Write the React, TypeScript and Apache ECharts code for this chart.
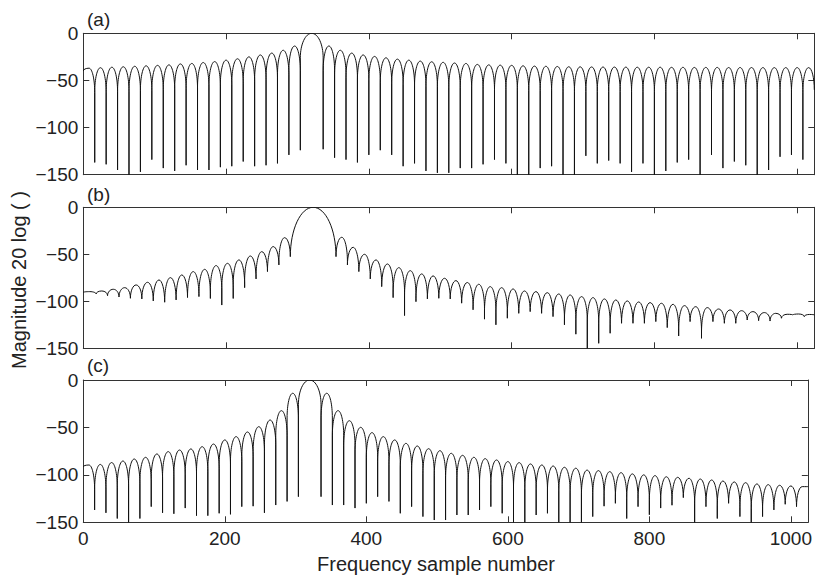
import React, { useEffect, useRef } from "react";
import * as echarts from "echarts";

// ---- tick labels / texts ----
const xTickValues = [0, 200, 400, 600, 800, 1000];
const yTickValues = [0, -50, -100, -150];
const panelLabels = ["(a)", "(b)", "(c)"];
const yTitle = "Magnitude 20 log ( )";
const xTitle = "Frequency sample number";

// ---- null (lobe boundary) positions ----
const nullPosAC = [
  0, 16, 32, 48, 64, 80, 96, 112, 128, 144, 160, 176, 192, 208, 224, 240, 256, 272, 288, 304,
  336, 352, 368, 384, 400, 416, 432, 448, 464, 480, 496, 512, 528, 544, 560, 576, 592, 608, 624,
  640, 656, 672, 688, 704, 720, 736, 752, 768, 784, 800, 816, 832, 848, 864, 880, 896, 912, 928,
  944, 960, 976, 992, 1008, 1024,
];
const nullPosB = [
  0, 18, 34, 50, 66, 82, 98, 114, 130, 146, 162, 178, 194, 210, 226, 242, 258, 274, 290,
  354, 370, 386, 402, 418, 434, 450, 466, 482, 498, 514, 530, 546, 562, 578, 594, 610, 626, 642,
  658, 674, 690, 706, 722, 738, 754, 770, 786, 802, 818, 834, 850, 866, 882, 898, 914, 930, 946,
  962, 978, 994, 1010, 1024,
];

// ---- panel (a): values at the nulls (dB) and lobe peak levels (dB) ----
const nullDepthA = [
  -40, -137, -139, -145, -155, -147, -134, -143, -146, -140, -145, -145, -142, -141, -136, -141,
  -140, -138, -129, -124,
  -123, -132, -134, -137, -129, -124, -129, -141, -138, -146, -148, -148, -143, -143, -139, -134,
  -138, -155, -155, -143, -141, -155,
  -155, -130, -138, -135, -138, -147, -138, -155, -146, -137, -134, -155, -129, -143, -136, -140,
  -155, -145, -131, -129, -134, -60,
];
const peakA = [
  -37, -36.5, -36, -35.5, -35, -34.5, -34, -33.5, -32.5, -32, -31, -30, -28.5, -27, -25, -23, -21,
  -18, -13.5,
  0,
  -13.5, -18, -21, -23, -24.5, -26, -27.4, -28.5, -29.5, -30.2, -30.8, -31.5, -32, -33, -33.5,
  -33.8, -34, -34.5, -34.8, -35, -35.2, -35.5,
  -35.6, -35.7, -35.8, -35.8, -35.9, -36, -36, -36, -36.1, -36.1, -36.2, -36.2, -36.2, -36.3,
  -36.3, -36.3, -36.4, -36.4, -36.4, -36.4, -36.4,
];

// ---- panel (b) ----
const nullDepthB = [
  -90.5, -92.2, -94, -95.4, -96.8, -97.5, -99.6, -101, -98.6, -96, -95, -97, -104, -97, -85.5,
  -76.2, -68.4, -61.3, -52.5,
  -52.5, -61.3, -68.4, -76.2, -84.4, -96.1, -115.2, -100.4, -97.5, -96.8, -97.5, -102, -109, -119,
  -125, -118, -112.8, -111, -112.8, -116.3, -125,
  -135, -152, -144.7, -134, -123.4, -123.4, -123.4, -121.6, -128, -136.9, -121.6, -139.4, -121.6,
  -123.4, -123.4, -119.9, -120.6, -121, -118, -114.5, -116.3,
  -114.5,
];
const peakB = [
  -89.7, -89, -87.2, -85.5, -82.6, -79.8, -77.3, -74.8, -72, -68.4, -66, -62, -59.6, -56, -51.8,
  -47.2, -41.8, -32.3,
  0,
  -31.9, -42.6, -50, -56, -60.3, -64.2, -67.4, -70.9, -73, -75.5, -78, -80, -81.9, -84.4, -85.5,
  -86.9, -89, -89.7, -90.8, -92.2, -93.3,
  -95, -96.1, -97.5, -98.6, -99.6, -100.7, -101.4, -102.1, -103.2, -104.6, -105.7, -106.7, -108.2,
  -109.2, -110, -111, -112, -112.8, -113.8, -113.5, -114,
];

// ---- panel (c) ----
const nullDepthC = [
  -91.4, -137, -140, -146, -152, -146, -133.5, -140, -141, -135, -143, -143, -140.5, -141.6,
  -133.5, -133, -140, -131.8, -128, -123,
  -123, -131.8, -131.8, -135, -130, -123, -128, -140.5, -133.5, -144, -147.6, -147.6, -142.3,
  -142.3, -137, -133.5, -140.5, -152, -152, -142.3, -140.5, -152,
  -152, -152, -144, -133, -130, -146, -133.5, -142, -135, -132, -124, -152, -133.5, -146, -130,
  -144, -152, -144, -137, -131, -133.5, -112,
];
const peakC = [
  -89.6, -89, -87, -85.4, -83.3, -81.5, -78, -75.5, -73.8, -72.7, -70.3, -67.5, -63.2, -59.7,
  -54.8, -49.2, -42.2, -32.3, -14,
  0,
  -14, -32.3, -42.9, -49.9, -55.5, -59.7, -63.2, -66.8, -69.6, -72.4, -74.5, -77.3, -79.4, -81.5,
  -82.9, -84.3, -86, -87.1, -88.5, -89.6, -90.7, -92,
  -93, -95, -95.5, -96.6, -97.7, -99, -100, -100.8, -102, -102.6, -103.6, -104.4, -105.4, -106.5,
  -107.5, -108.2, -109.6, -110.3, -111, -111.7, -112.4,
];

const panels = [
  { pos: nullPosAC, depth: nullDepthA, peak: peakA },
  { pos: nullPosB, depth: nullDepthB, peak: peakB },
  { pos: nullPosAC, depth: nullDepthC, peak: peakC },
];

const FONT = "'Liberation Sans', Arial, Helvetica, sans-serif";
const FRAME = "#333";
const TEXT = "#222";
const KAPPA = 0.5523;

function buildLobes(pos: number[], depth: number[], peak: number[]) {
  const out: number[][] = [];
  for (let i = 0; i < peak.length; i++) {
    out.push([pos[i], depth[i], pos[i + 1], depth[i + 1], peak[i]]);
  }
  return out;
}

const gridBoxes = [
  { top: 33.3, height: 141.4 },
  { top: 207.3, height: 141 },
  { top: 380, height: 142.3 },
];

function minus(v: number) {
  return v < 0 ? "\u2212" + Math.abs(v) : String(v);
}

// draws one spectral lobe: rounded cap (quarter ellipses) + straight drop to each null
function renderLobe(_params: any, api: any) {
  const xL = api.value(0);
  const yL = api.value(1);
  const xR = api.value(2);
  const yR = api.value(3);
  const yP = api.value(4);
  const pL = api.coord([xL, yL]);
  const pR = api.coord([xR, yR]);
  const pM = api.coord([(xL + xR) / 2, yP]);
  const capDb = xR - xL > 40 ? 60 : 26;
  const capPx = api.size([0, capDb])[1];
  const hL = Math.max(0, Math.min(capPx, pL[1] - pM[1]));
  const hR = Math.max(0, Math.min(capPx, pR[1] - pM[1]));
  const wl = pM[0] - pL[0];
  const wr = pR[0] - pM[0];
  const yp = pM[1];
  const d =
    `M${pL[0]} ${pL[1]} L${pL[0]} ${yp + hL} ` +
    `C${pL[0]} ${yp + hL * (1 - KAPPA)} ${pM[0] - KAPPA * wl} ${yp} ${pM[0]} ${yp} ` +
    `C${pM[0] + KAPPA * wr} ${yp} ${pR[0]} ${yp + hR * (1 - KAPPA)} ${pR[0]} ${yp + hR} ` +
    `L${pR[0]} ${pR[1]}`;
  return {
    type: "path",
    shape: { pathData: d },
    style: { fill: "none", stroke: "#111", lineWidth: 1 },
  };
}

export default function App() {
  const ref = useRef<HTMLDivElement>(null);
  useEffect(() => {
    if (!ref.current) return;
    const chart = echarts.init(ref.current, null, { renderer: "svg" });
    const lineStyle = { color: FRAME, width: 1 };
    const grid: any[] = [];
    const xAxis: any[] = [];
    const yAxis: any[] = [];
    const series: any[] = [];
    panels.forEach((p, i) => {
      grid.push({ left: 83.3, width: 731, top: gridBoxes[i].top, height: gridBoxes[i].height });
      const xBase = {
        gridIndex: i,
        type: "value",
        min: 0,
        max: 1024,
        interval: 200,
        splitLine: { show: false },
        axisLine: { show: true, onZero: false, lineStyle },
        axisTick: { show: true, inside: true, length: 6, lineStyle },
      };
      xAxis.push({
        ...xBase,
        position: "bottom",
        axisLabel: {
          show: i === 2,
          margin: 7,
          fontSize: 19,
          fontFamily: FONT,
          color: TEXT,
          formatter: (v: number) => (xTickValues.indexOf(v) >= 0 ? String(v) : ""),
        },
      });
      xAxis.push({ ...xBase, position: "top", axisLabel: { show: false } });
      const yBase = {
        gridIndex: i,
        type: "value",
        min: -150,
        max: 0,
        interval: 50,
        splitLine: { show: false },
        axisLine: { show: true, onZero: false, lineStyle },
        axisTick: { show: true, inside: true, length: 6, lineStyle },
      };
      yAxis.push({
        ...yBase,
        position: "left",
        axisLabel: {
          show: true,
          margin: 5,
          fontSize: 19,
          fontFamily: FONT,
          color: TEXT,
          formatter: (v: number) => (yTickValues.indexOf(v) >= 0 ? minus(v) : ""),
        },
      });
      yAxis.push({ ...yBase, position: "right", axisLabel: { show: false } });
      series.push({
        type: "custom",
        xAxisIndex: 2 * i,
        yAxisIndex: 2 * i,
        clip: true,
        silent: true,
        data: buildLobes(p.pos, p.depth, p.peak),
        renderItem: renderLobe,
      });
    });

    const labelYs = [20, 195, 366];
    const graphic: any[] = panelLabels.map((t, i) => ({
      type: "text",
      left: 87,
      top: labelYs[i] - 10,
      style: { text: t, font: `19px ${FONT}`, fill: TEXT },
    }));
    graphic.push({
      type: "text",
      x: 19,
      y: 280,
      rotation: Math.PI / 2,
      style: {
        text: yTitle,
        font: `20px ${FONT}`,
        fill: TEXT,
        align: "center",
        verticalAlign: "middle",
      },
    });
    graphic.push({
      type: "text",
      x: 436,
      y: 564,
      style: {
        text: xTitle,
        font: `20px ${FONT}`,
        fill: TEXT,
        align: "center",
        verticalAlign: "middle",
      },
    });

    chart.setOption({
      animation: false,
      backgroundColor: "#fff",
      grid,
      xAxis,
      yAxis,
      series,
      graphic,
    });
    return () => chart.dispose();
  }, []);
  return (
    <div
      ref={ref}
      style={{ position: "absolute", left: 0, top: 0, width: 815, height: 577 }}
    />
  );
}
